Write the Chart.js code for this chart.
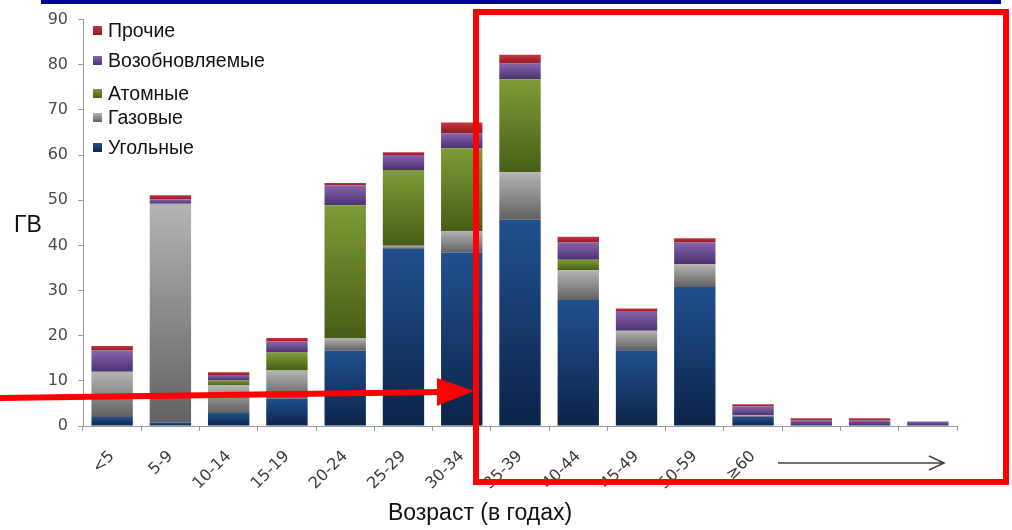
<!DOCTYPE html>
<html lang="ru">
<head>
<meta charset="utf-8">
<title>Возраст электростанций</title>
<script src="https://cdn.jsdelivr.net/npm/chart.js@4/dist/chart.umd.min.js"></script>
<style>
  html, body { margin: 0; padding: 0; background: #ffffff; }
  #wrap { position: relative; width: 1012px; height: 530px; overflow: hidden; }
  canvas { display: block; }
</style>
</head>
<body>
<div id="wrap"><canvas id="chart" width="1012" height="530"></canvas></div>
<script>
// Age groups of generating capacity (years); the last three groups are unlabelled
const ageGroups = ['<5', '5-9', '10-14', '15-19', '20-24', '25-29', '30-34', '35-39', '40-44', '45-49', '50-59', '≥60', '', '', ''];

// Capacity by fuel type, GW
const coal       = [2.0, 0.8, 2.9, 6.1, 16.7, 39.2, 38.4, 45.7, 27.9, 16.8, 30.8, 2.0, 0.2, 0.2, 0.2];
const gas        = [10.0, 48.4, 6.1, 6.2, 2.8, 0.7, 4.8, 10.5, 6.6, 4.3, 5.0, 0.3, 0, 0, 0];
const nuclear    = [0, 0, 1.1, 4.0, 29.4, 16.8, 18.3, 20.6, 2.3, 0, 0, 0, 0, 0, 0];
const renewables = [4.7, 1.0, 1.2, 2.4, 4.4, 3.3, 3.3, 3.5, 3.9, 4.2, 4.9, 2.0, 1.0, 1.0, 0.8];
const other      = [1.0, 0.9, 0.6, 0.8, 0.5, 0.6, 2.4, 1.9, 1.2, 0.7, 0.9, 0.5, 0.5, 0.5, 0];

// Y axis range and step
const yTicks = { min: 0, max: 90, step: 10 };

const seriesNames = ['Угольные', 'Газовые', 'Атомные', 'Возобновляемые', 'Прочие'];
const seriesData  = [coal, gas, nuclear, renewables, other];
// light (top) and dark (bottom) shade of each series
const shades = [
  ['#21508f', '#0b2449'],
  ['#b4b4b4', '#626262'],
  ['#7e9c36', '#465e16'],
  ['#8964ae', '#4a3270'],
  ['#c8343e', '#8e1b22']
];

// vertical gradient over each stacked segment
function segmentFill(d) {
  return (ctx) => {
    const chart = ctx.chart;
    const y = chart.scales.y;
    if (ctx.type !== 'data' || !chart.chartArea || !y) return shades[d][0];
    const i = ctx.dataIndex;
    let start = 0;
    for (let k = 0; k < d; k++) start += seriesData[k][i];
    const end = start + seriesData[d][i];
    const top = y.getPixelForValue(end);
    const bottom = y.getPixelForValue(start);
    if (!isFinite(top) || !isFinite(bottom) || bottom - top < 0.5) return shades[d][0];
    const g = chart.ctx.createLinearGradient(0, top, 0, bottom);
    g.addColorStop(0, shades[d][0]);
    g.addColorStop(1, shades[d][1]);
    return g;
  };
}

const datasets = seriesNames.map((name, d) => ({
  label: name,
  data: seriesData[d],
  backgroundColor: segmentFill(d),
  borderWidth: 0,
  barPercentage: 0.71,
  categoryPercentage: 1.0
}));

const labelFont = 'Liberation Sans, Arial, sans-serif';

// legend, axis titles, arrow and highlight frame
const decorations = {
  id: 'decorations',
  afterDraw(chart) {
    const c = chart.ctx;
    c.save();

    // header band
    c.fillStyle = '#00009c';
    c.fillRect(41, 0, 960, 4);

    // legend, top series first
    const legendRows = [
      { d: 4, y: 31 },
      { d: 3, y: 61 },
      { d: 2, y: 94 },
      { d: 1, y: 118 },
      { d: 0, y: 148 }
    ];
    c.font = '19.5px ' + labelFont;
    c.textBaseline = 'middle';
    c.textAlign = 'left';
    legendRows.forEach(r => {
      const g = c.createLinearGradient(0, r.y - 5, 0, r.y + 4);
      g.addColorStop(0, shades[r.d][0]);
      g.addColorStop(1, shades[r.d][1]);
      c.fillStyle = g;
      c.fillRect(93, r.y - 5, 9, 9);
      c.fillStyle = '#111111';
      c.fillText(seriesNames[r.d], 108, r.y + 1);
    });

    // axis titles
    c.fillStyle = '#111111';
    c.font = '23px ' + labelFont;
    c.textAlign = 'left';
    c.fillText('ГВ', 14, 226);
    c.font = '23px ' + labelFont;
    c.textAlign = 'center';
    c.fillText('Возраст (в годах)', 480, 514);

    // arrow under the unlabelled age groups
    c.strokeStyle = '#444444';
    c.lineWidth = 1.6;
    c.beginPath();
    c.moveTo(778, 463);
    c.lineTo(944, 463);
    c.moveTo(929, 456);
    c.lineTo(944, 463);
    c.lineTo(929, 470);
    c.stroke();

    // red highlight frame
    c.strokeStyle = '#ff0000';
    c.lineWidth = 6;
    c.strokeRect(476, 12, 530, 470);

    // red pointer arrow
    c.lineWidth = 6;
    c.beginPath();
    c.moveTo(0, 398);
    c.lineTo(440, 392);
    c.stroke();
    c.fillStyle = '#ff0000';
    c.beginPath();
    c.moveTo(437, 378);
    c.lineTo(474, 391);
    c.lineTo(437, 406);
    c.closePath();
    c.fill();

    c.restore();
  }
};

new Chart(document.getElementById('chart'), {
  type: 'bar',
  data: { labels: ageGroups, datasets },
  options: {
    responsive: false,
    devicePixelRatio: 1,
    animation: false,
    layout: { padding: { top: 16, right: 55, bottom: 0, left: 0 } },
    plugins: { legend: { display: false }, tooltip: { enabled: false } },
    scales: {
      x: {
        stacked: true,
        grid: { offset: true, drawOnChartArea: false, tickLength: 5, color: '#9a9a9a' },
        border: { color: '#9a9a9a' },
        ticks: {
          autoSkip: false, minRotation: 45, maxRotation: 45,
          padding: 16, color: '#3a3a3a',
          font: { family: 'DejaVu Sans', size: 16 }
        },
        afterFit(scale) { scale.height = 104; }
      },
      y: {
        stacked: true,
        min: yTicks.min, max: yTicks.max,
        grid: { drawOnChartArea: false, tickLength: 5, color: '#9a9a9a' },
        border: { color: '#9a9a9a' },
        ticks: {
          stepSize: yTicks.step, padding: 10, color: '#4a4a4a',
          font: { family: 'DejaVu Sans', size: 16 }
        },
        afterFit(scale) { scale.width = 83; }
      }
    }
  },
  plugins: [decorations]
});
</script>
</body>
</html>
